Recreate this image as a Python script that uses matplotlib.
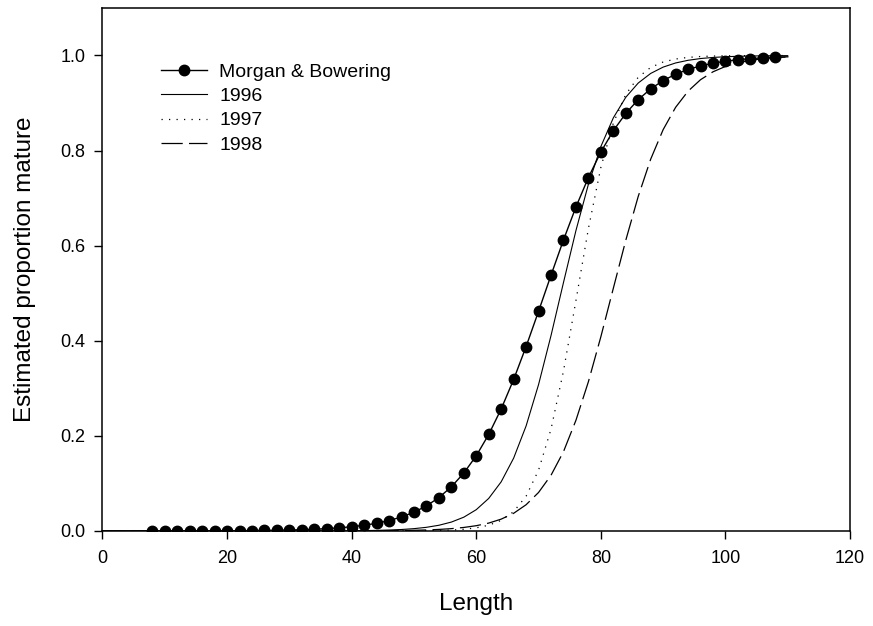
import matplotlib
matplotlib.use("Agg")
import matplotlib.pyplot as plt

plt.rcParams["font.family"] = ["Liberation Sans", "DejaVu Sans"]

# lengths, every 2 units from 0 to 110
length = list(range(0, 112, 2))

morgan_bowering = [
    0.00002, 0.00003, 0.00004, 0.00005, 0.00007, 0.00009, 0.00013, 0.00017,
    0.00023, 0.00032, 0.00043, 0.00058, 0.00079, 0.00107, 0.00145, 0.00196,
    0.00266, 0.0036, 0.0049, 0.0066, 0.0089, 0.0120, 0.0162, 0.0219,
    0.0294, 0.0394, 0.0527, 0.0702, 0.0928, 0.1218, 0.1582, 0.2030,
    0.2566, 0.3186, 0.3879, 0.4621, 0.5379, 0.6121, 0.6814, 0.7434,
    0.7970, 0.8418, 0.8782, 0.9072, 0.9298, 0.9473, 0.9606, 0.9706,
    0.9781, 0.9838, 0.9880, 0.9911, 0.9934, 0.9951, 0.9964, 0.9973,
]

y1996 = [
    0.0, 0.0, 0.0, 0.0, 0.0, 0.0, 0.0, 0.0,
    0.0, 0.0, 0.0, 0.0, 0.00001, 0.00002, 0.00003, 0.00006,
    0.00009, 0.00014, 0.00021, 0.00033, 0.00052, 0.00082, 0.00128, 0.0020,
    0.0031, 0.0049, 0.0077, 0.0120, 0.0187, 0.0290, 0.0448, 0.0685,
    0.1034, 0.1532, 0.2209, 0.3079, 0.4110, 0.5225, 0.6318, 0.7291,
    0.8085, 0.8688, 0.9121, 0.9421, 0.9623, 0.9756, 0.9843, 0.9899,
    0.9936, 0.9959, 0.9974, 0.9983, 0.9989, 0.9993, 0.9996, 0.9997,
]

y1997 = [
    0.0, 0.0, 0.0, 0.0, 0.0, 0.0, 0.0, 0.0,
    0.0, 0.0, 0.0, 0.0, 0.0, 0.0, 0.0, 0.0,
    0.0, 0.000002, 0.000004, 0.000007, 0.000014, 0.000025, 0.000046, 0.000086,
    0.00016, 0.00030, 0.00055, 0.00103, 0.00191, 0.00354, 0.0066, 0.0121,
    0.0223, 0.0407, 0.0731, 0.1279, 0.2142, 0.3363, 0.4845, 0.6360,
    0.7646, 0.8579, 0.9182, 0.9543, 0.9749, 0.9863, 0.9926, 0.9960,
    0.9979, 0.9988, 0.9994, 0.9997, 0.9998, 0.9999, 0.9999, 1.0,
]

y1998 = [
    0.0, 0.0, 0.0, 0.0, 0.0, 0.0, 0.0, 0.0,
    0.0, 0.0, 0.0, 0.0, 0.0, 0.00001, 0.00001, 0.00002,
    0.00003, 0.00004, 0.00006, 0.00012, 0.00018, 0.00027, 0.00041, 0.00063,
    0.00095, 0.00143, 0.00215, 0.00324, 0.0049, 0.0074, 0.0111, 0.0166,
    0.0249, 0.0372, 0.0552, 0.0810, 0.1172, 0.1668, 0.2328, 0.3139,
    0.4085, 0.5103, 0.6114, 0.7037, 0.7820, 0.8441, 0.8910, 0.9250,
    0.9491, 0.9657, 0.9770, 0.9846, 0.9898, 0.9932, 0.9955, 0.9970,
]

series_labels = ["Morgan & Bowering", "1996", "1997", "1998"]
x_ticks = [0, 20, 40, 60, 80, 100, 120]
y_ticks = [0.0, 0.2, 0.4, 0.6, 0.8, 1.0]

fig = plt.figure(figsize=(8.73, 6.26), dpi=100)
ax = fig.add_axes([0.1174, 0.1518, 0.8563, 0.8355])

ax.plot(length, morgan_bowering, color="black", linewidth=1.0,
        marker="o", markersize=7.5, markevery=slice(4, 55),
        label=series_labels[0])
ax.plot(length, y1996, color="black", linewidth=0.8, label=series_labels[1])
ax.plot(length, y1997, color="black", linewidth=0.9, dashes=(1.0, 5.0),
        label=series_labels[2])
ax.plot(length, y1998, color="black", linewidth=0.9, dashes=(17, 5),
        label=series_labels[3])

ax.set_xlim(0, 120)
ax.set_ylim(0, 1.1)
ax.set_xticks(x_ticks)
ax.set_yticks(y_ticks)
ax.set_yticklabels([f"{v:.1f}" for v in y_ticks])
ax.tick_params(direction="out", length=5.5, width=1.0, labelsize=13,
               top=False, right=False)
ax.tick_params(axis="y", pad=7)
ax.tick_params(axis="x", pad=8)
for side in ax.spines.values():
    side.set_linewidth(1.1)

ax.set_xlabel("Length", fontsize=17.5, labelpad=19)
ax.set_ylabel("Estimated proportion mature", fontsize=17.5, labelpad=17)

ax.legend(loc="upper left", bbox_to_anchor=(0.078, 0.894), frameon=False,
          fontsize=14, handlelength=2.4, handletextpad=0.6,
          labelspacing=0.34, borderpad=0, borderaxespad=0)

plt.savefig("out.png", dpi=100)
